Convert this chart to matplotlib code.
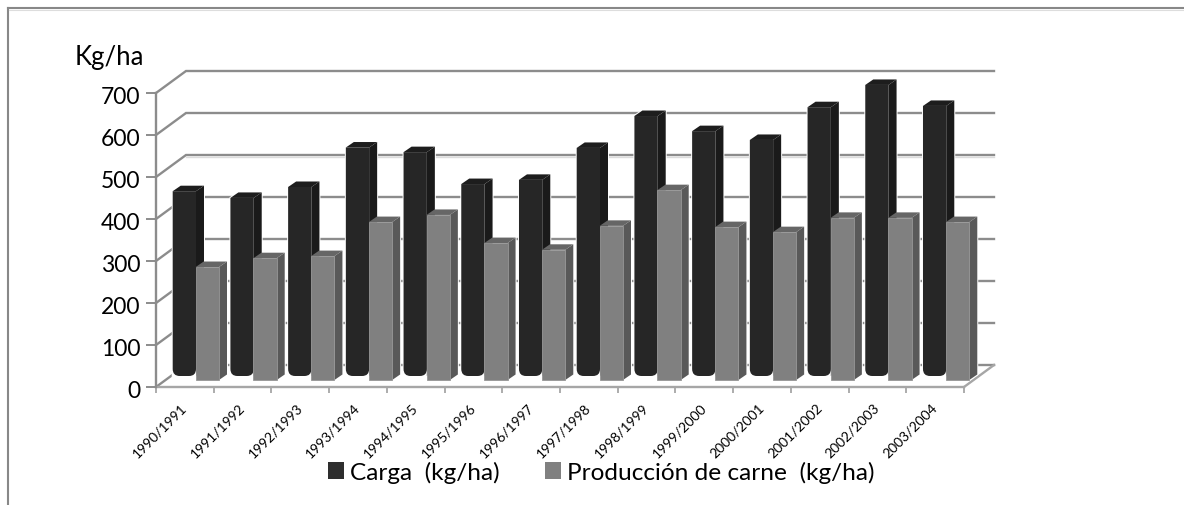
import matplotlib
matplotlib.use("Agg")
import matplotlib.pyplot as plt
from matplotlib.lines import Line2D
from matplotlib.patches import PathPatch, Polygon, Rectangle
from matplotlib.path import Path
from matplotlib.transforms import ScaledTranslation

seasons = ["1990/1991", "1991/1992", "1992/1993", "1993/1994", "1994/1995",
           "1995/1996", "1996/1997", "1997/1998", "1998/1999", "1999/2000",
           "2000/2001", "2001/2002", "2002/2003", "2003/2004"]
carga = [440, 424, 450, 544, 533, 457, 467, 543, 619, 583, 562, 640, 693, 643]
produccion = [269, 290, 295, 376, 393, 326, 310, 367, 452, 364, 352, 386, 386, 376]
y_ticks = [0, 100, 200, 300, 400, 500, 600, 700]

W, H = 1184, 506
GRID = "#8c8c8c"
LIGHT_GRID = "#a6a6a6"
FONT = ["Lato", "DejaVu Sans"]

fig = plt.figure(figsize=(W / 100, H / 100), dpi=100, facecolor="white")
ax = fig.add_axes([156 / W, 1 - 388 / H, 808 / W, 294 / H])
ax.set_xlim(0, 14)
ax.set_ylim(0, 700)
ax.patch.set_visible(False)

px_x = 14 / 808
px_y = 700 / 294
depth_x, depth_y = 30 * px_x, 22 * px_y


def px_dx(p):
    return p * px_x


def px_dy(p):
    return p * px_y


# Back wall and left wall gridlines
for v in y_ticks:
    ax.plot([0, depth_x, 14 + depth_x], [v, v + depth_y, v + depth_y],
            color=GRID, lw=1.7, clip_on=False, zorder=1, solid_joinstyle="miter")
ax.plot([depth_x, 14 + depth_x], [500 + depth_y - px_dy(2)] * 2, color="#dcdcdc", lw=1.0,
        clip_on=False, zorder=0.9)
ax.plot([14, 14 + depth_x], [0, depth_y], color=LIGHT_GRID, lw=1.7, clip_on=False, zorder=1)
ax.plot([0, 14], [0, 0], color=LIGHT_GRID, lw=1.7, clip_on=False, zorder=1)


def oblique_bar(x0, width, base, value, front, side, top, rounded=False):
    dx, dy = px_dx(8), px_dy(5.5)
    x1 = x0 + width
    h = base + value
    # Thin white halo separating the solid from the gridlines behind it
    ax.add_patch(Polygon([(x0, base), (x1, base), (x1 + dx, base + dy), (x1 + dx, h + dy),
                          (x0 + dx, h + dy), (x0, h)],
                         fc="white", ec="white", lw=1.4, clip_on=False, zorder=2))
    ax.add_patch(Polygon([(x1, base), (x1 + dx, base + dy), (x1 + dx, h + dy), (x1, h)],
                         fc=side, ec="none", clip_on=False, zorder=3))
    ax.add_patch(Polygon([(x0, h), (x0 + dx, h + dy), (x1 + dx, h + dy), (x1, h)],
                         fc=top, ec="none", clip_on=False, zorder=3))
    if rounded:
        rx, ry = px_dx(7), px_dy(7)
        verts = [(x0, h), (x0, base + ry), (x0, base), (x0 + rx, base),
                 (x1 - rx, base), (x1, base), (x1, base + ry), (x1, h), (x0, h)]
        codes = [Path.MOVETO, Path.LINETO, Path.CURVE3, Path.CURVE3,
                 Path.LINETO, Path.CURVE3, Path.CURVE3, Path.LINETO, Path.CLOSEPOLY]
        ax.add_patch(PathPatch(Path(verts, codes), fc=front, ec="none", clip_on=False, zorder=3))
    else:
        ax.add_patch(Rectangle((x0, base), width, value, fc=front, ec="#969696", lw=0.6,
                               clip_on=False, zorder=3))


bar_w = px_dx(23.3)
dark_base = px_dy(388 - 377)
gray_base = px_dy(388 - 381)
for i, c in enumerate(carga):
    oblique_bar(i + px_dx(16.7), bar_w, dark_base, c, "#262626", "#1a1a1a", "#1d1d1d", rounded=True)
for i, p in enumerate(produccion):
    oblique_bar(i + px_dx(39.7), bar_w, gray_base, p, "#808080", "#595959", "#666666")

# Axes furniture
for name in ("top", "right", "bottom"):
    ax.spines[name].set_visible(False)
ax.spines["left"].set_color(GRID)
ax.spines["left"].set_linewidth(1.7)
ax.set_yticks(y_ticks)
ax.set_yticklabels([str(v) for v in y_ticks], fontsize=16.5, family=FONT, color="black")
ax.tick_params(axis="y", length=7, width=1.4, color=GRID, pad=4)
nudge = ScaledTranslation(0, -2 / 100, fig.dpi_scale_trans)
for label in ax.get_yticklabels():
    label.set_transform(label.get_transform() + nudge)

# Ticks sit on category boundaries, season labels on category centres
ax.set_xticks(range(15))
ax.set_xticklabels([""] * 15)
ax.tick_params(axis="x", which="major", length=4, width=1.3, color=LIGHT_GRID)
ax.set_xticks([i + 0.5 for i in range(14)], minor=True)
ax.set_xticklabels(seasons, minor=True, rotation=45, ha="right", va="center",
                   rotation_mode="anchor", fontsize=10, family=FONT, color="black")
ax.tick_params(axis="x", which="minor", length=0, pad=13)

fig.text(75 / W, 1 - 57 / H, "Kg/ha", fontsize=18.5, family=FONT, ha="left", va="center")

handles = [Rectangle((0, 0), 1, 1, fc="#2e2e2e", ec="none"),
           Rectangle((0, 0), 1, 1, fc="#808080", ec="none")]
fig.legend(handles, ["Carga  (kg/ha)", "Producción de carne  (kg/ha)"], ncol=2,
           loc="center", bbox_to_anchor=(601 / W, 1 - 473 / H), frameon=False,
           prop={"family": FONT, "size": 17.6}, handlelength=0.65, handleheight=0.65,
           handletextpad=0.25, columnspacing=1.85, borderpad=0, borderaxespad=0)

# Outer chart frame
frame = "#888888"
fig.add_artist(Line2D([8 / W, 8 / W], [0, 1 - 9 / H], color=frame, lw=1.5))
fig.add_artist(Line2D([8 / W, 1], [1 - 9 / H, 1 - 9 / H], color=frame, lw=1.5))
fig.add_artist(Line2D([9 / W, 1], [1 - 11 / H, 1 - 11 / H], color="#dddddd", lw=0.8))

fig.savefig("out.png", dpi=100)
